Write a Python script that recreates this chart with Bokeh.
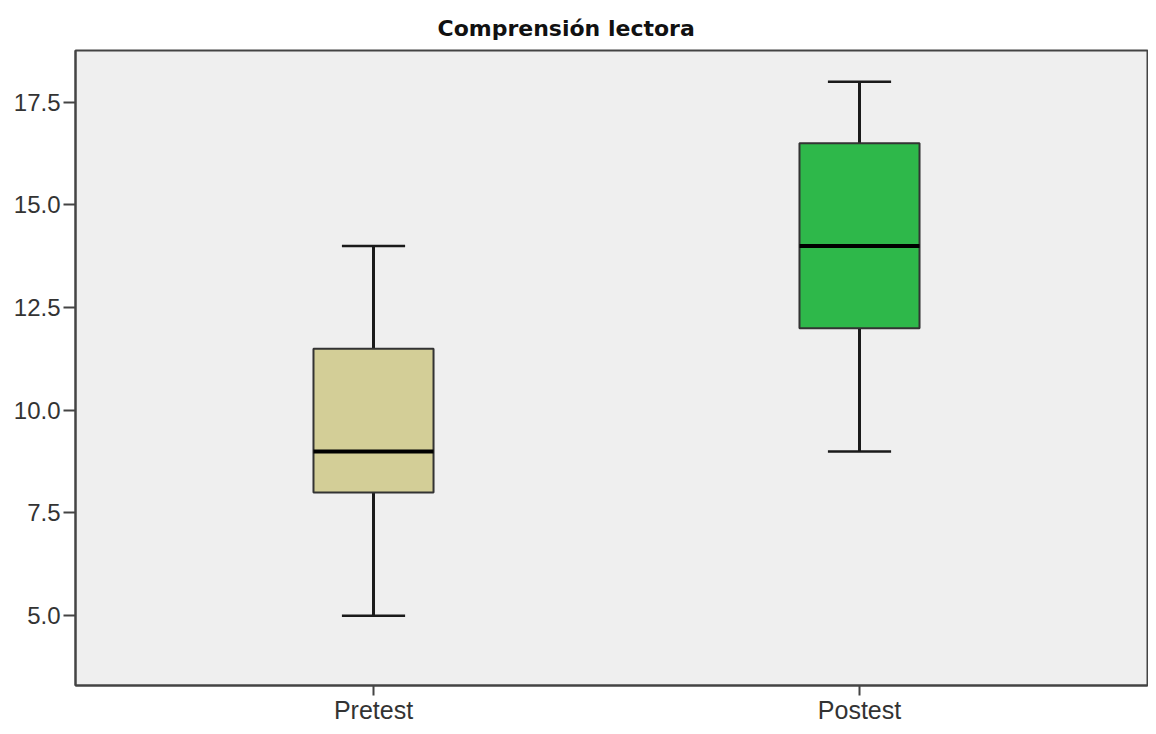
from bokeh.plotting import figure
from bokeh.models import FixedTicker, Range1d, NumeralTickFormatter
from bokeh.embed import file_html
from bokeh.resources import INLINE

# Data
groups = ["Pretest", "Postest"]
positions = [1, 2]
mins = [5.0, 9.0]
q1 = [8.0, 12.0]
medians = [9.0, 14.0]
q3 = [11.5, 16.5]
maxs = [14.0, 18.0]
colors = ["#d3ce97", "#2eb84a"]

y_ticks = [5.0, 7.5, 10.0, 12.5, 15.0, 17.5]

box_w = 0.247
cap_w = 0.13

p = figure(width=1148, height=726, output_backend="svg", toolbar_location=None,
           x_range=Range1d(0.3868, 2.5926), y_range=Range1d(3.30, 18.76),
           title="Comprensión lectora",
           min_border_left=75, min_border_right=1, min_border_top=50)

p.background_fill_color = "#efefef"
p.border_fill_color = "white"
p.outline_line_color = "#444444"
p.outline_line_width = 2
p.grid.visible = False

p.title.align = "left"
p.title.offset = 362
p.title.text_font = "DejaVu Sans"
p.title.text_font_size = "22px"
p.title.text_font_style = "bold"
p.title.text_color = "#111111"
p.title.standoff = 20

# whiskers
p.segment(x0=positions, y0=q3, x1=positions, y1=maxs, line_color="#1a1a1a", line_width=3)
p.segment(x0=positions, y0=mins, x1=positions, y1=q1, line_color="#1a1a1a", line_width=3)
# caps
p.segment(x0=[x - cap_w / 2 for x in positions], y0=maxs,
          x1=[x + cap_w / 2 for x in positions], y1=maxs, line_color="#1a1a1a", line_width=2.5)
p.segment(x0=[x - cap_w / 2 for x in positions], y0=mins,
          x1=[x + cap_w / 2 for x in positions], y1=mins, line_color="#1a1a1a", line_width=2.5)
# boxes
p.vbar(x=positions, width=box_w, bottom=q1, top=q3, fill_color=colors,
       line_color="#333333", line_width=2)
# medians
p.segment(x0=[x - box_w / 2 for x in positions], y0=medians,
          x1=[x + box_w / 2 for x in positions], y1=medians, line_color="black", line_width=4)

# axes
p.yaxis.ticker = FixedTicker(ticks=y_ticks)
p.yaxis.formatter = NumeralTickFormatter(format="0.0")
p.xaxis.ticker = FixedTicker(ticks=positions)
p.xaxis.major_label_overrides = {pos: g for pos, g in zip(positions, groups)}

for ax in (p.xaxis, p.yaxis):
    ax.axis_line_color = "#444444"
    ax.axis_line_width = 2
    ax.major_tick_line_color = "#444444"
    ax.major_tick_line_width = 2
    ax.major_tick_in = 0
    ax.minor_tick_line_color = None
    ax.major_label_text_font = "Liberation Sans"
    ax.major_label_text_color = "#333333"
p.yaxis.major_tick_out = 12
p.yaxis.major_label_standoff = 3
p.yaxis.major_label_text_font_size = "24px"
p.xaxis.major_tick_out = 10
p.xaxis.major_label_standoff = 0
p.xaxis.major_label_text_font_size = "25px"

open("out.html", "w").write(file_html(p, INLINE))
